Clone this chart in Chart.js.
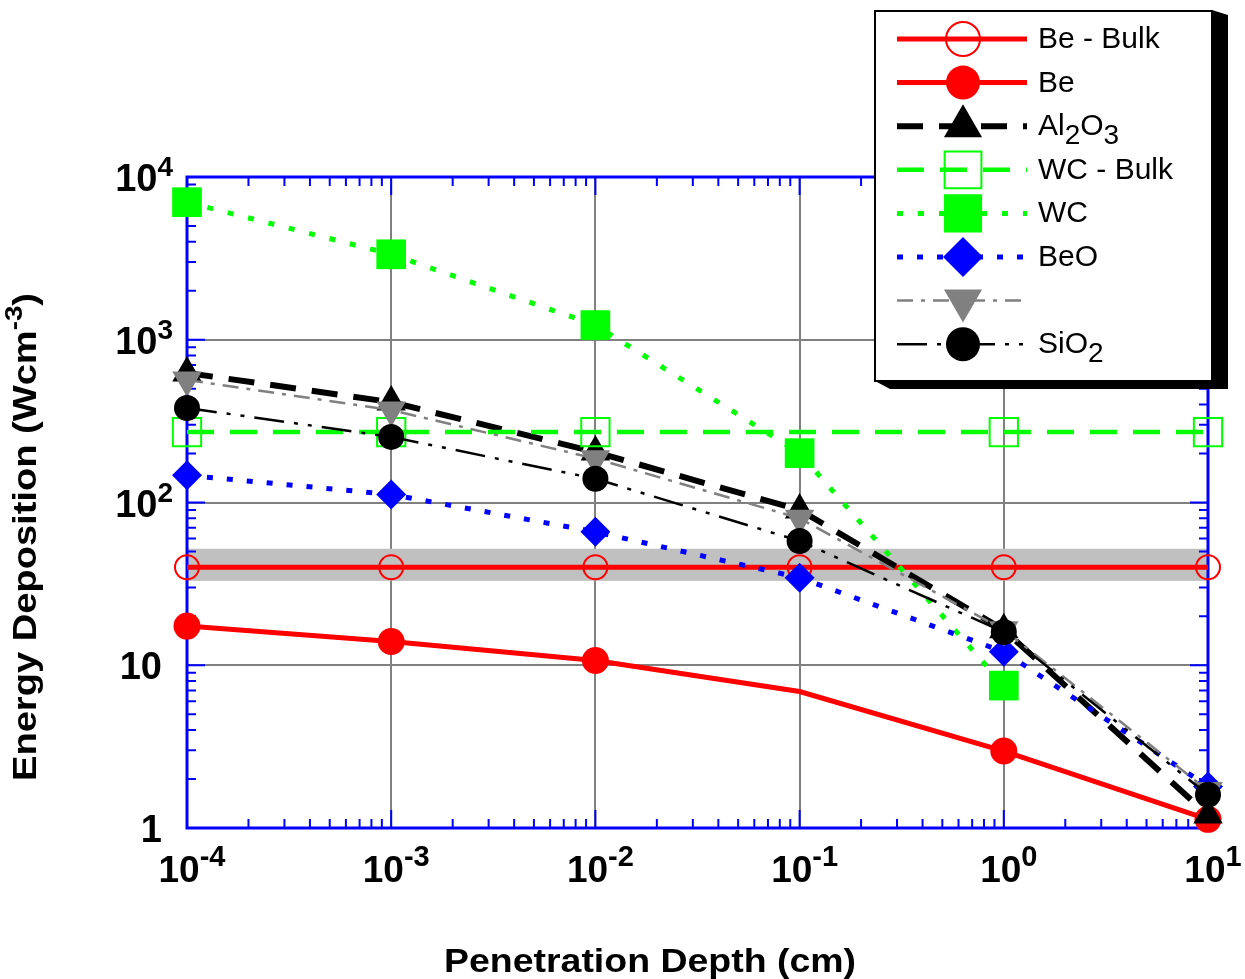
<!DOCTYPE html>
<html>
<head>
<meta charset="utf-8">
<script src="https://cdn.jsdelivr.net/npm/chart.js@4.4.1/dist/chart.umd.min.js"></script>
<style>
  html, body { margin: 0; padding: 0; background: #fff; }
  #wrap { width: 1245px; height: 979px; }
</style>
</head>
<body>
<div id="wrap"><canvas id="chart" width="1245" height="979"></canvas></div>
<script>
// penetration depth (cm) shared by every series
const depth = [1e-4, 1e-3, 1e-2, 1e-1, 1, 10]

// energy deposition (W cm^-3)
const beBulk = [40, 40, 40, 40, 40, 40]
const be = [17.4, 14.0, 10.7, 6.9, 2.97, 1.13]
const al2o3 = [625, 414, 204, 90, 16.5, 1.2]
const wcBulk = [271, 271, 271, 271, 271, 271]
const wc = [7000, 3350, 1230, 201, 7.5]
const beo = [147, 112, 66, 34.5, 12.1, 1.8]
const unnamed = [566, 370, 186, 80, 16.5, 1.7]
const sio2 = [381, 253, 140, 58, 16, 1.6]

// shaded band around the Be bulk value
const bandLow = 33
const bandHigh = 52

// tick labels
const xTickExp = ['-4', '-3', '-2', '-1', '0', '1']
const yTickValues = [1, 10, 100, 1000, 10000]
const yTickBase = ['1', '10', '10', '10', '10']
const yTickSup = ['', '', '2', '3', '4']

const FONT = '"Liberation Sans", Arial, Helvetica, sans-serif'
const pts = vals => vals.map((y, i) => ({ x: depth[i], y }))
const clear = 'rgba(0,0,0,0)'

const datasets = [
  { label: 'Be - Bulk', data: pts(beBulk), borderColor: '#ff0000', borderWidth: 5, borderDash: [],
    pointStyle: 'circle', pointRadius: 12, pointBorderWidth: 2, pointBorderColor: '#ff0000',
    pointBackgroundColor: clear, legendR: 17 },
  { label: 'Be', data: pts(be), borderColor: '#ff0000', borderWidth: 5, borderDash: [],
    pointStyle: 'circle', pointRadius: [13.5, 13.5, 13.5, 0, 13.5, 13.5], pointBorderWidth: 0,
    pointBorderColor: '#ff0000', pointBackgroundColor: '#ff0000', legendR: 17 },
  { label: 'Al2O3', data: pts(al2o3), borderColor: '#000000', borderWidth: 6, borderDash: [26, 16],
    pointStyle: 'triangle', pointRadius: 17, pointBorderWidth: 0, pointBorderColor: '#000000',
    pointBackgroundColor: '#000000', legendR: 22 },
  { label: 'WC - Bulk', data: pts(wcBulk), borderColor: '#00ff00', borderWidth: 4.5, borderDash: [27, 16],
    pointStyle: 'rect', pointRadius: [20, 20, 20, 0, 20, 20], pointBorderWidth: 2, pointBorderColor: '#00ff00',
    pointBackgroundColor: clear, legendR: 26 },
  { label: 'WC', data: pts(wc), borderColor: '#00ff00', borderWidth: 5, borderDash: [6, 15],
    pointStyle: 'rect', pointRadius: 21, pointBorderWidth: 0, pointBorderColor: '#00ff00',
    pointBackgroundColor: '#00ff00', legendR: 27 },
  { label: 'BeO', data: pts(beo), borderColor: '#0000ff', borderWidth: 5, borderDash: [6, 14],
    pointStyle: 'rectRot', pointRadius: 15, pointBorderWidth: 0, pointBorderColor: '#0000ff',
    pointBackgroundColor: '#0000ff', legendR: 20 },
  { label: '', data: pts(unnamed), borderColor: '#808080', borderWidth: 2.5, borderDash: [16, 8, 4, 8],
    pointStyle: 'triangle', pointRotation: 180, pointRadius: 17, pointBorderWidth: 0, pointBorderColor: '#808080',
    pointBackgroundColor: '#808080', legendR: 22 },
  { label: 'SiO2', data: pts(sio2), borderColor: '#000000', borderWidth: 2.5, borderDash: [30, 10, 4, 10, 4, 10],
    pointStyle: 'circle', pointRadius: 13, pointBorderWidth: 0, pointBorderColor: '#000000',
    pointBackgroundColor: '#000000', legendR: 17 }
]
// later series are painted on top
datasets.forEach((d, i) => { d.order = datasets.length - i; d.clip = false; d.tension = 0 })

function decades (lo, hi) {
  const out = []
  for (let e = Math.round(Math.log10(lo)); e <= Math.round(Math.log10(hi)); e++) out.push(Math.pow(10, e))
  return out
}

// text made of pieces: {t, size, dy}
function partsWidth (c, parts, bold) {
  let w = 0
  parts.forEach(p => {
    c.font = `${bold ? 'bold ' : ''}${p.size}px ${FONT}`
    w += c.measureText(p.t).width
  })
  return w
}
function drawParts (c, parts, x, y, bold) {
  parts.forEach(p => {
    c.font = `${bold ? 'bold ' : ''}${p.size}px ${FONT}`
    c.fillText(p.t, x, y + (p.dy || 0))
    x += c.measureText(p.t).width
  })
}

function drawMarker (c, style, x, y, r, rot, fill, stroke, bw) {
  c.beginPath()
  if (style === 'circle') {
    c.arc(x, y, r, 0, Math.PI * 2)
  } else if (style === 'rect') {
    const h = r * Math.SQRT1_2
    c.rect(x - h, y - h, 2 * h, 2 * h)
  } else if (style === 'rectRot') {
    c.moveTo(x, y - r); c.lineTo(x + r, y); c.lineTo(x, y + r); c.lineTo(x - r, y)
    c.closePath()
  } else if (style === 'triangle') {
    let a = (rot || 0) * Math.PI / 180
    c.moveTo(x + Math.sin(a) * r, y - Math.cos(a) * r)
    a += Math.PI * 2 / 3
    c.lineTo(x + Math.sin(a) * r, y - Math.cos(a) * r)
    a += Math.PI * 2 / 3
    c.lineTo(x + Math.sin(a) * r, y - Math.cos(a) * r)
    c.closePath()
  }
  c.fillStyle = fill
  c.fill()
  if (bw > 0) { c.lineWidth = bw; c.strokeStyle = stroke; c.stroke() }
}

const framePlugin = {
  id: 'frame',
  beforeDatasetsDraw (chart) {
    const { ctx: c, chartArea: a, scales: { x, y } } = chart
    c.save()
    const yHi = y.getPixelForValue(bandHigh)
    const yLo = y.getPixelForValue(bandLow)
    c.fillStyle = '#c0c0c0'
    c.fillRect(a.left, yHi, a.right - a.left, yLo - yHi)

    c.strokeStyle = '#0000ff'
    c.lineWidth = 2
    c.beginPath()
    decades(y.min, y.max).forEach(d => {
      for (let k = 1; k <= 9; k++) {
        const v = k * d
        if (v > y.max) break
        const py = y.getPixelForValue(v)
        const len = k === 1 ? 18 : 9
        c.moveTo(a.left, py); c.lineTo(a.left + len, py)
        c.moveTo(a.right, py); c.lineTo(a.right - len, py)
      }
    })
    decades(x.min, x.max).forEach(d => {
      for (let k = 1; k <= 9; k++) {
        const v = k * d
        if (v > x.max * 1.0001) break
        const px = x.getPixelForValue(v)
        const len = k === 1 ? 18 : 9
        c.moveTo(px, a.bottom); c.lineTo(px, a.bottom - len)
        c.moveTo(px, a.top); c.lineTo(px, a.top + len)
      }
    })
    c.stroke()
    c.lineWidth = 3
    c.strokeRect(a.left, a.top, a.right - a.left, a.bottom - a.top)
    c.restore()
  },
  afterDraw (chart) {
    const { ctx: c, chartArea: a, scales: { x, y } } = chart
    c.save()
    c.fillStyle = '#000'
    c.textBaseline = 'alphabetic'

    // x tick labels
    depth.forEach((v, i) => {
      const parts = [{ t: '10', size: 37 }, { t: xTickExp[i], size: 29, dy: -16 }]
      const w = partsWidth(c, parts, true)
      drawParts(c, parts, x.getPixelForValue(v) - w / 2 + 5, 882, true)
    })
    // y tick labels
    yTickValues.forEach((v, i) => {
      const parts = [{ t: yTickBase[i], size: 38 }]
      if (yTickSup[i]) parts.push({ t: yTickSup[i], size: 28, dy: -15 })
      const w = partsWidth(c, parts, true)
      const right = yTickSup[i] ? a.left - 14 : a.left - 25
      drawParts(c, parts, right - w, y.getPixelForValue(v) + 14, true)
    })

    // axis titles, widened a little to the reference's length
    const xt = [{ t: 'Penetration Depth (cm)', size: 34 }]
    let w = partsWidth(c, xt, true)
    c.save()
    c.translate(650, 972)
    c.scale(412 / w, 1)
    drawParts(c, xt, -w / 2, 0, true)
    c.restore()

    const yt = [{ t: 'Energy Deposition (Wcm', size: 33 }, { t: '-3', size: 24, dy: -14 }, { t: ')', size: 33 }]
    w = partsWidth(c, yt, true)
    c.save()
    c.translate(36, 537)
    c.rotate(-Math.PI / 2)
    c.scale(488 / w, 1)
    drawParts(c, yt, -w / 2, 0, true)
    c.restore()

    // legend box with drop shadow
    const bx = 875, by = 11, bw = 337, bh = 370
    c.fillStyle = '#000'
    c.beginPath()
    c.moveTo(bx + bw, by - 1)
    c.lineTo(bx + bw + 16, by + 4)
    c.lineTo(bx + bw + 16, by + bh + 8)
    c.lineTo(bx + 15, by + bh + 8)
    c.lineTo(bx, by + bh)
    c.closePath()
    c.fill()
    c.fillStyle = '#fff'
    c.fillRect(bx, by, bw, bh)
    c.strokeStyle = '#000'
    c.lineWidth = 2
    c.strokeRect(bx, by, bw, bh)

    chart.data.datasets.forEach((ds, i) => {
      const ly = 39 + i * 43.6
      c.setLineDash(ds.borderDash)
      c.strokeStyle = ds.borderColor
      c.lineWidth = ds.borderWidth
      c.beginPath()
      c.moveTo(897, ly)
      c.lineTo(1027, ly)
      c.stroke()
      c.setLineDash([])
      drawMarker(c, ds.pointStyle, 963, ly, ds.legendR, ds.pointRotation || 0,
        ds.pointBackgroundColor, ds.pointBorderColor, ds.pointBorderWidth)
      // digits in formulas are subscripts
      const parts = ds.label.split(/(\d+)/).filter(s => s).map(s =>
        /^\d+$/.test(s) ? { t: s, size: 28, dy: 9 } : { t: s, size: 30 })
      c.fillStyle = '#000'
      drawParts(c, parts, 1038, ly + 9, false)
    })
    c.restore()
  }
}

new Chart(document.getElementById('chart'), {
  type: 'line',
  data: { datasets },
  options: {
    responsive: false,
    animation: false,
    events: [],
    layout: { padding: { left: 187, right: 37, top: 177, bottom: 151 } },
    plugins: { legend: { display: false }, tooltip: { enabled: false } },
    scales: {
      x: {
        type: 'logarithmic',
        min: 1e-4,
        max: 10,
        afterBuildTicks: s => { s.ticks = decades(1e-4, 10).map(v => ({ value: v })) },
        ticks: { display: false },
        grid: { color: '#808080', lineWidth: 2, drawTicks: false },
        border: { display: false }
      },
      y: {
        type: 'logarithmic',
        min: 1,
        max: 10000,
        afterBuildTicks: s => { s.ticks = yTickValues.map(v => ({ value: v })) },
        ticks: { display: false },
        grid: { color: '#808080', lineWidth: 2, drawTicks: false },
        border: { display: false }
      }
    }
  },
  plugins: [framePlugin]
})
</script>
</body>
</html>
